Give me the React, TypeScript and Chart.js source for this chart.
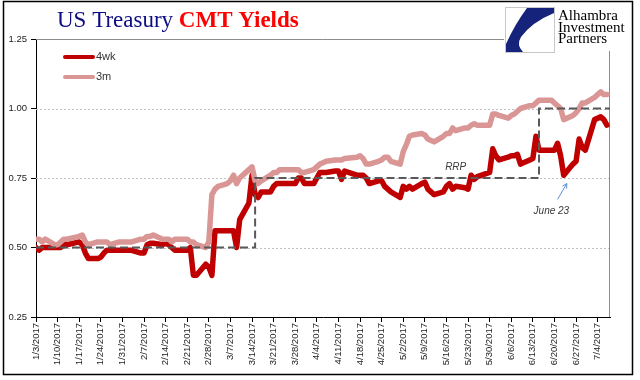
import React, { useEffect, useRef } from "react";
import { Chart, registerables } from "chart.js";

Chart.register(...registerables);

// ---------- categories ----------
const FIRST_DATE = "1/3/2017";
const LAST_DATE = "7/7/2017";
const AXIS_END = "7/8/2017";
const MARKET_HOLIDAYS = ["1/16", "2/20", "4/14", "5/29", "7/4"];

const tickLabels = [
  "1/3/2017", "1/10/2017", "1/17/2017", "1/24/2017", "1/31/2017", "2/7/2017", "2/14/2017",
  "2/21/2017", "2/28/2017", "3/7/2017", "3/14/2017", "3/21/2017", "3/28/2017", "4/4/2017",
  "4/11/2017", "4/18/2017", "4/25/2017", "5/2/2017", "5/9/2017", "5/16/2017", "5/23/2017",
  "5/30/2017", "6/6/2017", "6/13/2017", "6/20/2017", "6/27/2017", "7/4/2017",
];
const yTicks = [0.25, 0.5, 0.75, 1.0, 1.25];
const dottedGrid = [0.5, 0.75, 1.0];

// ---------- series (one value per trading day) ----------
const yield4wk = [
  // Jan
  0.50, 0.49, 0.50, 0.50, 0.50, 0.50, 0.50, 0.51, 0.51, 0.52, 0.51, 0.48, 0.46, 0.46, 0.465, 0.48, 0.49, 0.49, 0.49, 0.49,
  // Feb
  0.49, 0.49, 0.49, 0.48, 0.48, 0.51, 0.515, 0.515, 0.51, 0.515, 0.51, 0.50, 0.49, 0.49, 0.50, 0.40, 0.40, 0.44, 0.43,
  // Mar
  0.40, 0.56, 0.56, 0.56, 0.56, 0.56, 0.50, 0.60, 0.66, 0.76, 0.69, 0.68, 0.70, 0.70, 0.72, 0.73, 0.73, 0.73, 0.73, 0.73, 0.75, 0.75, 0.73,
  // Apr
  0.73, 0.75, 0.77, 0.77, 0.77, 0.775, 0.775, 0.745, 0.775, 0.76, 0.76, 0.76, 0.75, 0.73, 0.74, 0.74, 0.72, 0.71, 0.70,
  // May
  0.68, 0.72, 0.71, 0.72, 0.71, 0.73, 0.735, 0.71, 0.70, 0.69, 0.70, 0.72, 0.73, 0.71, 0.72, 0.715, 0.71, 0.76, 0.745, 0.755, 0.77, 0.855,
  // Jun
  0.83, 0.815, 0.825, 0.83, 0.83, 0.835, 0.80, 0.815, 0.82, 0.90, 0.85, 0.85, 0.85, 0.85, 0.875, 0.83, 0.76, 0.80, 0.81, 0.89, 0.86, 0.85,
  // Jul
  0.96, 0.97, 0.96, 0.94,
];

const yield3m = [
  // Jan
  0.53, 0.53, 0.52, 0.53, 0.51, 0.51, 0.52, 0.53, 0.53, 0.54, 0.545, 0.52, 0.51, 0.52, 0.52, 0.52, 0.52, 0.51, 0.52, 0.52,
  // Feb
  0.52, 0.52, 0.52, 0.53, 0.53, 0.54, 0.54, 0.545, 0.53, 0.53, 0.53, 0.52, 0.53, 0.53, 0.52, 0.52, 0.51, 0.50, 0.52,
  // Mar
  0.69, 0.71, 0.72, 0.73, 0.74, 0.76, 0.73, 0.75, 0.78, 0.79, 0.74, 0.73, 0.74, 0.76, 0.77, 0.77, 0.78, 0.78, 0.78, 0.78, 0.78, 0.77, 0.77,
  // Apr
  0.78, 0.79, 0.80, 0.805, 0.81, 0.815, 0.815, 0.815, 0.82, 0.825, 0.83, 0.82, 0.80, 0.80, 0.81, 0.815, 0.825, 0.825, 0.81,
  // May
  0.80, 0.845, 0.87, 0.90, 0.905, 0.91, 0.905, 0.89, 0.885, 0.88, 0.90, 0.91, 0.91, 0.93, 0.92, 0.93, 0.93, 0.94, 0.945, 0.94, 0.94, 0.98,
  // Jun
  0.98, 0.975, 0.965, 0.975, 0.98, 0.99, 1.00, 1.01, 1.01, 1.02, 1.03, 1.03, 1.03, 1.02, 1.01, 1.00, 0.96, 0.975, 0.985, 1.00, 1.02, 1.02,
  // Jul
  1.04, 1.06, 1.05, 1.05,
];

// RRP (Fed reverse repo rate) changes
const rrpDates = ["1/3/2017", "3/15/2017", "6/15/2017", "7/8/2017"];
const rrpRates = [0.5, 0.75, 1.0, 1.0];

const seriesNames = ["4wk", "3m"];
const COLOR_4WK = "#c00000";
const COLOR_3M = "#d99694";

// ---------- helpers ----------
const dayOf = (s: string) => {
  const [m, d, y] = s.split("/").map(Number);
  return Math.round((Date.UTC(y, m - 1, d) - Date.UTC(2017, 0, 3)) / 86400000);
};

function tradingDays(): number[] {
  const out: number[] = [];
  for (let d = dayOf(FIRST_DATE); d <= dayOf(LAST_DATE); d++) {
    const dt = new Date(Date.UTC(2017, 0, 3 + d));
    const wd = dt.getUTCDay();
    const key = `${dt.getUTCMonth() + 1}/${dt.getUTCDate()}`;
    if (wd === 0 || wd === 6 || MARKET_HOLIDAYS.includes(key)) continue;
    out.push(d);
  }
  return out;
}

const labelByDay: Record<number, string> = {};
tickLabels.forEach((l) => (labelByDay[dayOf(l)] = l));

const decor = {
  id: "decor",
  beforeDraw(chart: any) {
    const ctx = chart.ctx;
    ctx.save();
    ctx.fillStyle = "#ffffff";
    ctx.fillRect(0, 0, chart.width, chart.height);
    ctx.restore();
  },
  beforeDatasetsDraw(chart: any) {
    const { ctx, chartArea: a, scales } = chart;
    const y = scales.y;
    ctx.save();
    ctx.lineWidth = 1;
    ctx.strokeStyle = "#c0c0c0";
    ctx.setLineDash([2, 2]);
    for (const v of dottedGrid) {
      const py = Math.round(y.getPixelForValue(v)) + 0.5;
      ctx.beginPath();
      ctx.moveTo(a.left, py);
      ctx.lineTo(a.right, py);
      ctx.stroke();
    }
    ctx.setLineDash([]);
    ctx.strokeStyle = "#8c8c8c";
    const top = Math.round(a.top) + 0.5;
    const right = Math.round(a.right) - 0.5;
    ctx.beginPath();
    ctx.moveTo(a.left, top);
    ctx.lineTo(right, top);
    ctx.lineTo(right, a.bottom);
    ctx.stroke();
    ctx.restore();
  },
  afterDraw(chart: any) {
    const { ctx, chartArea: a, scales } = chart;
    const xs = scales.x;
    const ys = scales.y;
    ctx.save();

    // Title
    ctx.textBaseline = "alphabetic";
    ctx.textAlign = "left";
    ctx.font = "23px 'Liberation Serif'";
    ctx.fillStyle = "#0c0c82";
    const t1 = "US Treasury ";
    ctx.fillText(t1, 57, 27);
    const w1 = ctx.measureText(t1).width;
    ctx.font = "bold 23px 'Liberation Serif'";
    ctx.fillStyle = "#ff0000";
    ctx.fillText("CMT Yields", 57 + w1, 27);

    // Logo
    ctx.fillStyle = "#ffffff";
    ctx.fillRect(504, 2, 128, 49);
    ctx.strokeStyle = "#c8c8c8";
    ctx.lineWidth = 1;
    ctx.strokeRect(505.5, 7.5, 49, 45);
    ctx.fillStyle = "#15237a";
    ctx.beginPath();
    ctx.moveTo(527, 8);
    ctx.lineTo(554, 8);
    ctx.lineTo(554, 13);
    ctx.quadraticCurveTo(532, 22, 521, 37);
    ctx.quadraticCurveTo(516, 45, 523, 52);
    ctx.lineTo(506, 52);
    ctx.lineTo(506, 44);
    ctx.quadraticCurveTo(515, 24, 527, 8);
    ctx.closePath();
    ctx.fill();
    ctx.fillStyle = "#000000";
    ctx.font = "15px 'Liberation Serif'";
    ctx.fillText("Alhambra", 558, 20);
    ctx.fillText("Investment", 558, 31.5);
    ctx.fillText("Partners", 558, 43);

    // Legend
    const colors = [COLOR_4WK, COLOR_3M];
    seriesNames.forEach((name, i) => {
      const ly = a.top + 18 + i * 20;
      ctx.strokeStyle = colors[i];
      ctx.lineWidth = 4;
      ctx.lineCap = "round";
      ctx.beginPath();
      ctx.moveTo(a.left + 29, ly);
      ctx.lineTo(a.left + 57, ly);
      ctx.stroke();
      ctx.fillStyle = "#333333";
      ctx.font = "11px 'Liberation Sans'";
      ctx.textBaseline = "middle";
      ctx.fillText(name, a.left + 60, ly);
    });

    // Annotations
    ctx.font = "italic 10px 'Liberation Sans'";
    ctx.fillStyle = "#3a3a3a";
    ctx.textAlign = "center";
    ctx.textBaseline = "middle";
    ctx.fillText("RRP", xs.getPixelForValue(dayOf("5/19/2017")), ys.getPixelForValue(0.79));
    ctx.fillText("June 23", xs.getPixelForValue(dayOf("6/19/2017")), ys.getPixelForValue(0.63));

    // Arrow
    const x0 = xs.getPixelForValue(dayOf("6/21/2017"));
    const y0 = ys.getPixelForValue(0.673);
    const x1 = xs.getPixelForValue(dayOf("6/24/2017"));
    const y1 = ys.getPixelForValue(0.73);
    ctx.strokeStyle = "#5b8fd1";
    ctx.lineWidth = 1;
    ctx.lineCap = "butt";
    ctx.beginPath();
    ctx.moveTo(x0, y0);
    ctx.lineTo(x1, y1);
    const ang = Math.atan2(y1 - y0, x1 - x0);
    const hl = 5;
    ctx.moveTo(x1, y1);
    ctx.lineTo(x1 - hl * Math.cos(ang - 0.5), y1 - hl * Math.sin(ang - 0.5));
    ctx.moveTo(x1, y1);
    ctx.lineTo(x1 - hl * Math.cos(ang + 0.5), y1 - hl * Math.sin(ang + 0.5));
    ctx.stroke();

    // Outer frame
    ctx.strokeStyle = "#000000";
    ctx.lineWidth = 1.5;
    ctx.strokeRect(3.5, 1.5, 629, 373);
    ctx.restore();
  },
};

export default function App() {
  const ref = useRef<HTMLCanvasElement | null>(null);

  useEffect(() => {
    if (!ref.current) return;
    const days = tradingDays();
    const chart = new Chart(ref.current, {
      type: "line",
      data: {
        datasets: [
          {
            label: "RRP",
            data: rrpDates.map((d, i) => ({ x: dayOf(d), y: rrpRates[i] })),
            borderColor: "#595959",
            borderWidth: 2,
            borderDash: [8, 4],
            stepped: "before",
            pointRadius: 0,
            fill: false,
            order: 0,
          },
          {
            label: seriesNames[1],
            data: days.map((d, i) => ({ x: d, y: yield3m[i] })),
            borderColor: COLOR_3M,
            borderWidth: 5.5,
            pointRadius: 0,
            tension: 0,
            borderJoinStyle: "round",
            borderCapStyle: "round",
            fill: false,
            order: 1,
          },
          {
            label: seriesNames[0],
            data: days.map((d, i) => ({ x: d, y: yield4wk[i] })),
            borderColor: COLOR_4WK,
            borderWidth: 5.5,
            pointRadius: 0,
            tension: 0,
            borderJoinStyle: "round",
            borderCapStyle: "round",
            fill: false,
            order: 2,
          },
        ],
      },
      options: {
        animation: false,
        responsive: true,
        maintainAspectRatio: false,
        layout: { padding: { top: 39, right: 30, left: 0, bottom: 0 } },
        plugins: { legend: { display: false }, tooltip: { enabled: false } },
        scales: {
          x: {
            type: "linear",
            min: dayOf(FIRST_DATE),
            max: dayOf(AXIS_END),
            afterBuildTicks: (s: any) => {
              s.ticks = tickLabels.map((l) => ({ value: dayOf(l) }));
            },
            afterFit: (s: any) => {
              s.height = 63;
            },
            grid: { display: true, drawOnChartArea: false, drawTicks: true, tickLength: 5, color: "#000", tickColor: "#000" },
            border: { display: true, color: "#000", width: 1 },
            ticks: {
              autoSkip: false,
              maxRotation: 90,
              minRotation: 90,
              padding: 1,
              color: "#222",
              font: { family: "'Liberation Sans'", size: 9.5 },
              callback: (v: any) => labelByDay[Number(v)] ?? "",
            },
          },
          y: {
            min: yTicks[0],
            max: yTicks[yTicks.length - 1],
            afterBuildTicks: (s: any) => {
              s.ticks = yTicks.map((v) => ({ value: v }));
            },
            afterFit: (s: any) => {
              s.width = 36;
            },
            grid: { display: true, drawOnChartArea: false, drawTicks: true, tickLength: 5, color: "#000", tickColor: "#000" },
            border: { display: true, color: "#000", width: 1 },
            ticks: {
              padding: 4,
              color: "#222",
              font: { family: "'Liberation Sans'", size: 9.5 },
              callback: (v: any) => Number(v).toFixed(2),
            },
          },
        },
      },
      plugins: [decor],
    });
    return () => chart.destroy();
  }, []);

  return (
    <div style={{ position: "fixed", left: 0, top: 0, width: 640, height: 380, background: "#fff" }}>
      <canvas ref={ref} />
    </div>
  );
}
